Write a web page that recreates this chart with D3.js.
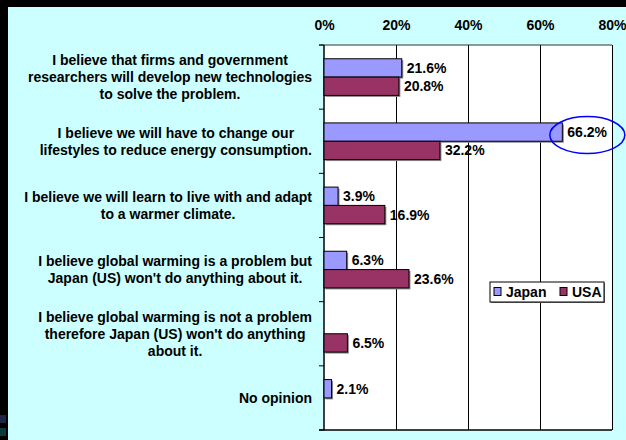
<!DOCTYPE html>
<html>
<head>
<meta charset="utf-8">
<script src="https://cdn.jsdelivr.net/npm/d3@7"></script>
<style>
  html, body { margin: 0; padding: 0; background: #ccffff; }
  svg { display: block; }
  text { font-family: "Liberation Sans", Arial, Helvetica, sans-serif; font-weight: bold; fill: #000; }
</style>
</head>
<body>
<svg id="chart" width="626" height="440"></svg>
<script>
// Survey answers: what will happen about global warming?
const categories = [
  "I believe that firms and government researchers will develop new technologies to solve the problem.",
  "I believe we will have to change our lifestyles to reduce energy consumption.",
  "I believe we will learn to live with and adapt to a warmer climate.",
  "I believe global warming is a problem but Japan (US) won't do anything about it.",
  "I believe global warming is not a problem therefore Japan (US) won't do anything about it.",
  "No opinion"
];
// Line breaks used for the category captions
const categoryLines = [
  ["I believe that firms and government", "researchers will develop new technologies", "to solve the problem."],
  ["I believe we will have to change our", "lifestyles to reduce energy consumption."],
  ["I believe we will learn to live with and adapt", "to a warmer climate."],
  ["I believe global warming is a problem but", "Japan (US) won't do anything about it."],
  ["I believe global warming is not a problem", "therefore Japan (US) won't do anything", "about it."],
  ["No opinion"]
];
const seriesNames = ["Japan", "USA"];
const japanValues = [21.6, 66.2, 3.9, 6.3, null, 2.1];
const usaValues = [20.8, 32.2, 16.9, 23.6, 6.5, null];
const tickValues = [0, 20, 40, 60, 80];
const colors = { Japan: "#9999ff", USA: "#993366" };

const svg = d3.select("#chart");

// slide frame
svg.append("rect").attr("x", 0).attr("y", 0).attr("width", 626).attr("height", 440).attr("fill", "#ccffff");
svg.append("rect").attr("x", 0).attr("y", 0).attr("width", 626).attr("height", 7).attr("fill", "#000");
svg.append("rect").attr("x", 0).attr("y", 0).attr("width", 8).attr("height", 440).attr("fill", "#000");
svg.append("rect").attr("x", 0).attr("y", 415).attr("width", 6).attr("height", 8).attr("fill", "#1c2646");
svg.append("rect").attr("x", 0).attr("y", 428).attr("width", 6).attr("height", 8).attr("fill", "#0a3a3a");

const plot = { left: 324, right: 612, top: 45, bottom: 430 };

const x = d3.scaleLinear().domain([0, 80]).range([plot.left, plot.right]);
const y = d3.scaleBand().domain(d3.range(categories.length)).range([plot.top, plot.bottom]).padding(0);
const ySeries = d3.scaleBand().domain(seriesNames).range([0, y.bandwidth()]).paddingInner(0).paddingOuter(0.75);

// plot area
svg.append("rect")
  .attr("x", plot.left).attr("y", plot.top)
  .attr("width", plot.right - plot.left).attr("height", plot.bottom - plot.top)
  .attr("fill", "#fff");

// vertical gridlines
svg.append("g").selectAll("line")
  .data(tickValues.slice(1))
  .join("line")
  .attr("x1", d => x(d)).attr("x2", d => x(d))
  .attr("y1", plot.top).attr("y2", plot.bottom)
  .attr("stroke", "#000").attr("stroke-width", 1).attr("shape-rendering", "crispEdges");

// value axis along the top
const xAxis = d3.axisTop(x).tickValues(tickValues).tickFormat(d => d + "%").tickSize(0).tickPadding(15);
const gx = svg.append("g").attr("transform", `translate(0,${plot.top})`).call(xAxis);
gx.select(".domain").remove();
gx.selectAll("text").attr("font-size", 14).attr("font-family", null).style("font-weight", "bold");

// frame lines top / bottom / left
svg.append("line").attr("x1", plot.left - 5).attr("x2", plot.right).attr("y1", plot.top).attr("y2", plot.top)
  .attr("stroke", "#333").attr("stroke-width", 1.2);
svg.append("line").attr("x1", plot.left - 5).attr("x2", plot.right).attr("y1", plot.bottom).attr("y2", plot.bottom)
  .attr("stroke", "#000").attr("stroke-width", 1.5);
svg.append("line").attr("x1", plot.left).attr("x2", plot.left).attr("y1", plot.top).attr("y2", plot.bottom)
  .attr("stroke", "#000").attr("stroke-width", 1.5);

// category tick marks at band boundaries
const boundaries = d3.range(categories.length + 1).map(i => i < categories.length ? y(i) : plot.bottom);
svg.append("g").selectAll("line")
  .data(boundaries)
  .join("line")
  .attr("x1", plot.left - 5).attr("x2", plot.left)
  .attr("y1", d => d).attr("y2", d => d)
  .attr("stroke", "#000").attr("stroke-width", 1);

// bars
const rows = [];
categories.forEach((c, i) => {
  rows.push({ i, series: "Japan", value: japanValues[i] });
  rows.push({ i, series: "USA", value: usaValues[i] });
});
const shown = rows.filter(d => d.value != null);

const gBars = svg.append("g");
gBars.selectAll("rect.shadow")
  .data(shown)
  .join("rect")
  .attr("class", "shadow")
  .attr("x", x(0) + 1.5)
  .attr("y", d => y(d.i) + ySeries(d.series) + 1.5)
  .attr("width", d => x(d.value) - x(0))
  .attr("height", ySeries.bandwidth())
  .attr("fill", "#8a8a8a");
gBars.selectAll("rect.bar")
  .data(shown)
  .join("rect")
  .attr("class", "bar")
  .attr("x", x(0))
  .attr("y", d => y(d.i) + ySeries(d.series))
  .attr("width", d => x(d.value) - x(0))
  .attr("height", ySeries.bandwidth())
  .attr("fill", d => colors[d.series])
  .attr("stroke", "#000").attr("stroke-width", 1);

// value labels
svg.append("g").selectAll("text")
  .data(shown)
  .join("text")
  .attr("x", d => x(d.value) + 5)
  .attr("y", d => y(d.i) + ySeries(d.series) + ySeries.bandwidth() / 2)
  .attr("dy", "0.36em")
  .attr("font-size", 14)
  .text(d => d.value.toFixed(1) + "%");

// highlight ring around the Japan lifestyle answer
const hl = { i: 1, series: "Japan", value: japanValues[1] };
svg.append("ellipse")
  .attr("cx", x(hl.value) + 25)
  .attr("cy", y(hl.i) + ySeries(hl.series) + ySeries.bandwidth() / 2 + 3)
  .attr("rx", 37.5).attr("ry", 18.5)
  .attr("fill", "none").attr("stroke", "#0000ff").attr("stroke-width", 1.5);

// category captions: centred lines, block right-aligned against the axis
const lineH = 17;
const labelRight = 312;
const gCat = svg.append("g");
categoryLines.forEach((lines, i) => {
  const cy = y(i) + y.bandwidth() / 2;
  const t = gCat.append("text").attr("font-size", 14);
  const spans = t.selectAll("tspan").data(lines).join("tspan")
    .attr("y", (d, k) => cy - (lines.length - 1) * lineH / 2 + k * lineH + 5)
    .text(d => d);
  let maxW = 0;
  spans.each(function () { maxW = Math.max(maxW, this.getComputedTextLength()); });
  spans.attr("x", labelRight - maxW / 2).attr("text-anchor", "middle");
});

// legend
const lg = svg.append("g");
lg.append("rect").attr("x", 491).attr("y", 283).attr("width", 114).attr("height", 20).attr("fill", "#777");
lg.append("rect").attr("x", 490).attr("y", 282).attr("width", 114).attr("height", 20)
  .attr("fill", "#fff").attr("stroke", "#000").attr("stroke-width", 1);
const legendPos = { Japan: 494, USA: 560 };
seriesNames.forEach(s => {
  lg.append("rect").attr("x", legendPos[s]).attr("y", 287.5).attr("width", 7).attr("height", 8)
    .attr("fill", colors[s]).attr("stroke", "#000").attr("stroke-width", 1);
  lg.append("text").attr("x", legendPos[s] + 12).attr("y", 296.5).attr("font-size", 14).text(s);
});
</script>
</body>
</html>
